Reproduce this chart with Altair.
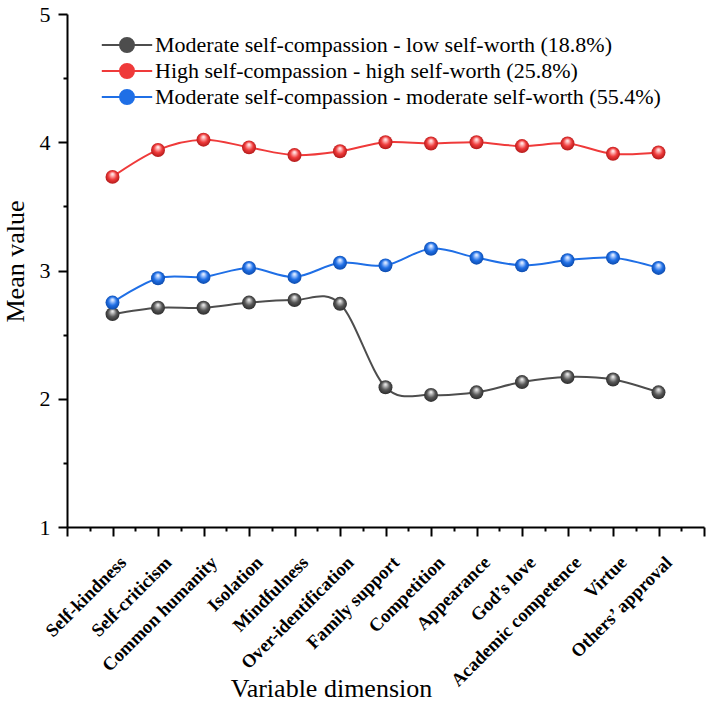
import json
import altair as alt
import pandas as pd

# Dimension names along the x axis
categories = [
    "Self-kindness", "Self-criticism", "Common humanity", "Isolation",
    "Mindfulness", "Over-identification", "Family support", "Competition",
    "Appearance", "God’s love", "Academic competence", "Virtue",
    "Others’ approval",
]

# Profile names (legend order)
series_names = [
    "Moderate self-compassion - low self-worth (18.8%)",
    "High self-compassion - high self-worth (25.8%)",
    "Moderate self-compassion - moderate self-worth (55.4%)",
]

# Mean values per profile
low_worth = [2.66, 2.71, 2.71, 2.75, 2.77, 2.74, 2.09, 2.03, 2.05, 2.13, 2.17, 2.15, 2.05]
high_worth = [3.73, 3.94, 4.02, 3.96, 3.90, 3.93, 4.00, 3.99, 4.00, 3.97, 3.99, 3.91, 3.92]
moderate_worth = [2.75, 2.94, 2.95, 3.02, 2.95, 3.06, 3.04, 3.17, 3.10, 3.04, 3.08, 3.10, 3.02]

line_colors = ["#4d4d4d", "#ef3a3a", "#1f6fe6"]
sphere_stops = [
    ["#ffffff", "#c8c8c8", "#575757", "#262626"],
    ["#ffffff", "#ffc2c2", "#ef3a3a", "#a81414"],
    ["#ffffff", "#b9d3ff", "#1f6fe6", "#0a45a3"],
]

rows = []
for name, vals in zip(series_names, [low_worth, high_worth, moderate_worth]):
    for i, v in enumerate(vals):
        rows.append({"series": name, "pos": i + 1, "value": v})
df = pd.DataFrame(rows)

FONT = "Liberation Serif"

x_ticks = [i * 0.5 for i in range(29)]
y_ticks = [1 + i * 0.5 for i in range(9)]

x_axis = alt.Axis(
    values=x_ticks,
    labelExpr=(
        "datum.value % 1 === 0 && datum.value >= 1 && datum.value <= 13 ? "
        + json.dumps(categories) + "[datum.value - 1] : ''"
    ),
    tickSize={"condition": {"test": "datum.value % 1 === 0", "value": 9}, "value": 4},
    tickWidth=2, tickColor="black",
    domainColor="black", domainWidth=2,
    labelAngle=-45, labelAlign="right", labelBaseline="middle",
    labelFont=FONT, labelFontWeight="bold", labelFontSize=18.5, labelColor="black",
    labelPadding=23, labelOffset=10, labelOverlap=False, labelFlush=False,
    labelBound=False,
    grid=False,
    title="Variable dimension", titleFont=FONT, titleFontSize=26,
    titleFontWeight="normal", titleColor="black",
    titleX=264, titleY=161, titleBaseline="middle", titleAlign="center",
)

y_axis = alt.Axis(
    values=y_ticks,
    labelExpr="datum.value % 1 === 0 ? '' + datum.value : ''",
    tickSize={"condition": {"test": "datum.value % 1 === 0", "value": 9}, "value": 4},
    tickWidth=2, tickColor="black",
    domainColor="black", domainWidth=2,
    labelFont=FONT, labelFontSize=22, labelColor="black", labelPadding=8,
    labelOverlap=False, labelFlush=False,
    grid=False,
    title="Mean value", titleFont=FONT, titleFontSize=26,
    titleFontWeight="normal", titleColor="black",
    titleX=-52, titleY=247, titleAngle=-90,
    titleBaseline="middle", titleAlign="center",
)

x_enc = alt.X("pos:Q", scale=alt.Scale(domain=[0, 14], nice=False, zero=False), axis=x_axis)
y_enc = alt.Y("value:Q", scale=alt.Scale(domain=[1, 5], nice=False, zero=False), axis=y_axis)

# Legend symbol: a short line with a dot in the middle
legend_symbol = "M-3.6,0L-1,0M1,0L3.6,0M-1,0A1,1,0,1,0,1,0A1,1,0,1,0,-1,0Z"
legend = alt.Legend(
    title=None, orient="none", legendX=49, legendY=20,
    symbolType=legend_symbol, symbolSize=196, symbolStrokeWidth=2,
    symbolOpacity=1,
    labelFont=FONT, labelFontSize=22, labelColor="black", labelLimit=1000,
    labelOffset=17, rowPadding=4, padding=0,
)

# Line colours: domain taken from the data (ordered by sort) so this scale
# stays separate from the legend's fill/stroke scales
lines = alt.Chart(df).mark_line(interpolate="cardinal", strokeWidth=2).encode(
    x=x_enc,
    y=y_enc,
    color=alt.Color("series:N", scale=alt.Scale(range=line_colors),
                    sort=series_names, legend=None),
)

# Empty layer that only carries the legend (fill + stroke merged into one)
legend_scale = alt.Scale(domain=series_names, range=line_colors)
legend_layer = alt.Chart(df).transform_filter("datum.pos < 0").mark_point(
    filled=True, size=196, strokeWidth=2
).encode(
    x=x_enc,
    y=y_enc,
    fill=alt.Fill("series:N", scale=legend_scale, legend=legend),
    stroke=alt.Stroke("series:N", scale=legend_scale, legend=legend),
)

layers = [lines, legend_layer]
for name, stops in zip(series_names, sphere_stops):
    grad = alt.RadialGradient(
        gradient="radial",
        x1=0.5, y1=0.28, r1=0.0,
        x2=0.5, y2=0.5, r2=0.55,
        stops=[
            alt.GradientStop(offset=0.0, color=stops[0]),
            alt.GradientStop(offset=0.18, color=stops[1]),
            alt.GradientStop(offset=0.55, color=stops[2]),
            alt.GradientStop(offset=1.0, color=stops[3]),
        ],
    )
    pts = alt.Chart(df).transform_filter(alt.datum.series == name).mark_circle(
        size=195, opacity=1, fill=grad
    ).encode(x=x_enc, y=y_enc)
    layers.append(pts)

chart = alt.layer(*layers).properties(
    width=637, height=513, background="white",
    autosize=alt.AutoSizeParams(type="none"),
    padding={"left": 67, "top": 14, "right": 5, "bottom": 176},
).configure_view(stroke=None).configure_legend(
    labelFont=FONT, labelFontSize=22, labelColor="black", labelLimit=1000,
    symbolType=legend_symbol, symbolSize=196, symbolStrokeWidth=2,
    labelOffset=17, rowPadding=4, padding=0,
)

chart.save("out.html", embed_options={"renderer": "svg", "actions": False})
